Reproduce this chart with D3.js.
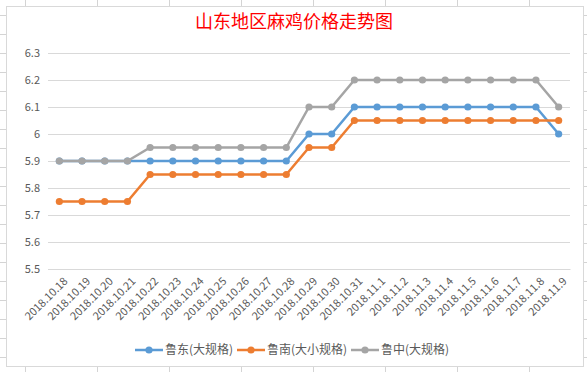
<!DOCTYPE html>
<meta charset="utf-8">
<style>
body { margin: 0; background: #fff; }
text { font-family: "Noto Sans CJK SC", "Noto Sans", sans-serif; }
.tick text { fill: #595959; font-size: 11px; }
</style>
<body>
<script src="https://cdn.jsdelivr.net/npm/d3@7"></script>
<script>

var dates = ["2018.10.18","2018.10.19","2018.10.20","2018.10.21","2018.10.22","2018.10.23",
  "2018.10.24","2018.10.25","2018.10.26","2018.10.27","2018.10.28","2018.10.29","2018.10.30",
  "2018.10.31","2018.11.1","2018.11.2","2018.11.3","2018.11.4","2018.11.5","2018.11.6",
  "2018.11.7","2018.11.8","2018.11.9"];

var ludong = [5.9,5.9,5.9,5.9,5.9,5.9,5.9,5.9,5.9,5.9,5.9,6.0,6.0,6.1,6.1,6.1,6.1,6.1,6.1,6.1,6.1,6.1,6.0];
var lunan = [5.75,5.75,5.75,5.75,5.85,5.85,5.85,5.85,5.85,5.85,5.85,5.95,5.95,6.05,6.05,6.05,6.05,6.05,6.05,6.05,6.05,6.05,6.05];
var luzhong = [5.9,5.9,5.9,5.9,5.95,5.95,5.95,5.95,5.95,5.95,5.95,6.1,6.1,6.2,6.2,6.2,6.2,6.2,6.2,6.2,6.2,6.2,6.1];

var seriesNames = ["鲁东(大规格)", "鲁南(大小规格)", "鲁中(大规格)"];
var seriesColors = ["#5B9BD5", "#ED7D31", "#A5A5A5"];
var yTicks = [5.5,5.6,5.7,5.8,5.9,6.0,6.1,6.2,6.3];

var width = 587, height = 372;

var svg = d3.select("body").append("svg")
    .attr("width", width)
    .attr("height", height);

// spreadsheet cells behind the chart
var bg = svg.append("g").attr("stroke", "#d4d4d4").attr("stroke-width", 1);
for (var cx = 25; cx < width; cx += 72) {
  bg.append("line").attr("x1", cx + 0.5).attr("x2", cx + 0.5).attr("y1", 0).attr("y2", height);
}
for (var cy = 15; cy < height; cy += 19) {
  bg.append("line").attr("x1", 0).attr("x2", width).attr("y1", cy + 0.5).attr("y2", cy + 0.5);
}

// chart area
svg.append("rect")
    .attr("x", 6.5).attr("y", 6.5)
    .attr("width", 577).attr("height", 360)
    .attr("fill", "#fff")
    .attr("stroke", "#d9d9d9");

svg.append("text")
    .attr("x", 294).attr("y", 28)
    .attr("text-anchor", "middle")
    .attr("fill", "#ff0000")
    .style("font-size", "18px")
    .text("山东地区麻鸡价格走势图");

var x = d3.scaleBand().domain(dates).range([48, 570]);
var y = d3.scaleLinear().domain([5.5, 6.3]).range([269, 53]);

var yAxis = svg.append("g")
    .attr("transform", "translate(48,0)")
    .call(d3.axisLeft(y).tickValues(yTicks).tickSize(-522).tickPadding(8)
      .tickFormat(function(d) { return d3.format("")(+d.toFixed(1)); }));
yAxis.select(".domain").remove();
yAxis.selectAll(".tick line").attr("stroke", "#d9d9d9");

var xAxis = svg.append("g")
    .attr("transform", "translate(0,269)")
    .call(d3.axisBottom(x).tickSize(0).tickPadding(0));
xAxis.select(".domain").attr("stroke", "#d9d9d9");
xAxis.selectAll(".tick text")
    .style("font-size", "11px")
    .attr("text-anchor", "end")
    .attr("dy", 0)
    .attr("transform", "translate(9,13) rotate(-45)");

var allSeries = [ludong, lunan, luzhong];
var line = d3.line()
    .x(function(d, i) { return x(dates[i]) + x.bandwidth() / 2; })
    .y(function(d) { return y(d); });

allSeries.forEach(function(vals, k) {
  var g = svg.append("g");
  g.append("path")
      .datum(vals)
      .attr("fill", "none")
      .attr("stroke", seriesColors[k])
      .attr("stroke-width", 2.5)
      .attr("d", line);
  g.selectAll("circle")
      .data(vals)
      .enter().append("circle")
      .attr("cx", function(d, i) { return x(dates[i]) + x.bandwidth() / 2; })
      .attr("cy", function(d) { return y(d); })
      .attr("r", 3.6)
      .attr("fill", seriesColors[k]);
});

// legend
var legendX = [135, 237, 351];
var legend = svg.append("g");
seriesNames.forEach(function(name, k) {
  var lg = legend.append("g").attr("transform", "translate(" + legendX[k] + ",350)");
  lg.append("line").attr("x1", 0).attr("x2", 28).attr("stroke", seriesColors[k]).attr("stroke-width", 2.5);
  lg.append("circle").attr("cx", 14).attr("r", 3.6).attr("fill", seriesColors[k]);
  lg.append("text").attr("x", 30).attr("dy", "0.35em")
      .attr("fill", "#595959").style("font-size", "12px").text(name);
});

</script>
</body>
